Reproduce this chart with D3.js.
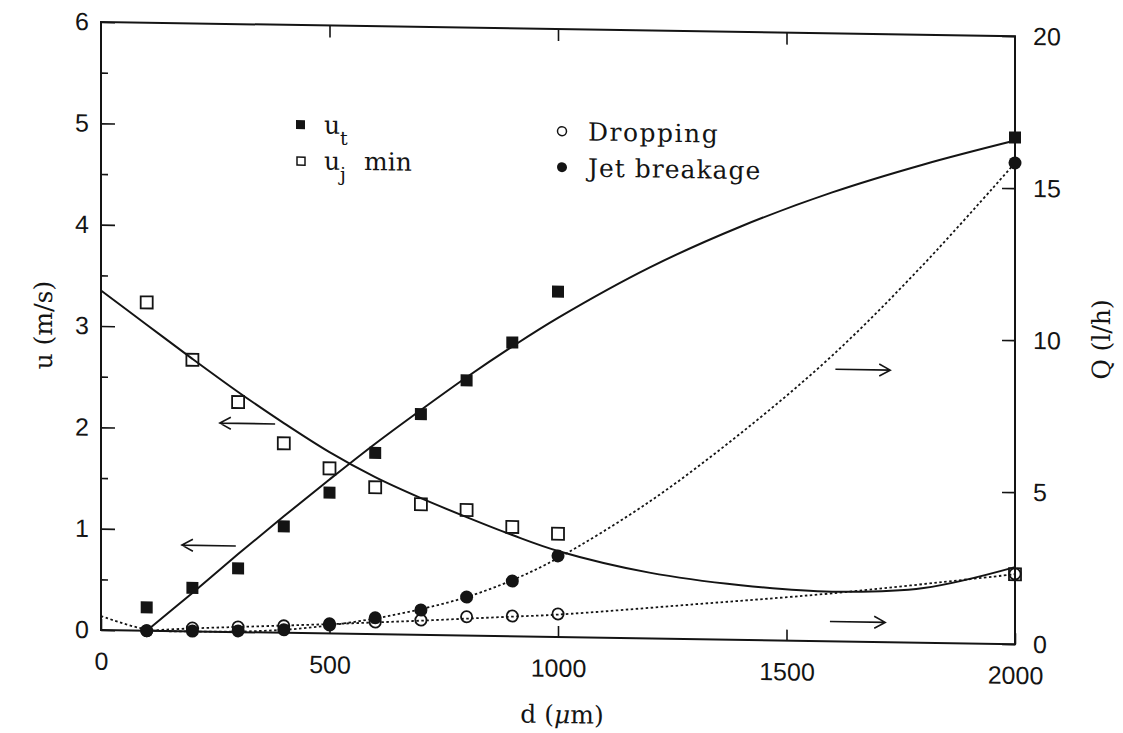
<!DOCTYPE html>
<html>
<head>
<meta charset="utf-8">
<script src="https://cdn.jsdelivr.net/npm/d3@7"></script>
<style>
  body { margin: 0; background: #fff; }
  svg { display: block; }
</style>
</head>
<body>
<div id="chart"></div>
<script>
// measured points, d in micrometres
const dVals = [100, 200, 300, 400, 500, 600, 700, 800, 900, 1000, 2000];
const utVals = [0.23, 0.43, 0.63, 1.05, 1.39, 1.79, 2.18, 2.52, 2.90, 3.41, 5.00];
const ujMinVals = [3.24, 2.68, 2.27, 1.87, 1.63, 1.45, 1.29, 1.24, 1.08, 1.02, 0.69];
const droppingQ = [0.00, 0.11, 0.17, 0.23, 0.32, 0.40, 0.49, 0.62, 0.67, 0.76, 2.31];
const jetQ = [0.00, 0.01, 0.04, 0.10, 0.28, 0.54, 0.82, 1.27, 1.82, 2.67, 15.83];

// fitted curves
const utFitD = [100, 200, 300, 400, 500, 600, 700, 800, 900, 1000, 1200, 1400, 1600, 1800, 2000];
const utFitU = [0, 0.38, 0.77, 1.15, 1.52, 1.88, 2.22, 2.55, 2.86, 3.15, 3.66, 4.08, 4.43, 4.72, 4.97];
const ujFitD = [0, 100, 200, 300, 400, 500, 600, 700, 800, 900, 1000, 1200, 1400, 1600, 1800, 2000];
const ujFitU = [3.35, 3.02, 2.69, 2.37, 2.07, 1.79, 1.55, 1.35, 1.17, 1.00, 0.85, 0.65, 0.54, 0.49, 0.54, 0.76];
const dropFitD = [100, 200, 300, 400, 500, 600, 700, 800, 900, 1000, 1300, 1600, 2000];
const dropFitQ = [0, 0.10, 0.17, 0.24, 0.31, 0.39, 0.47, 0.56, 0.65, 0.74, 1.15, 1.58, 2.30];
const jetFitD = [0, 100, 200, 300, 400, 500, 600, 700, 800, 900, 1000, 1200, 1400, 1600, 1800, 2000];
const jetFitQ = [0.46, 0.04, 0.00, 0.02, 0.10, 0.27, 0.52, 0.85, 1.27, 1.85, 2.60, 4.50, 6.80, 9.40, 12.45, 15.83];

// ticks
const uTicks = [0, 1, 2, 3, 4, 5, 6];
const uMinorTicks = [0.5, 1.5, 2.5, 3.5, 4.5, 5.5];
const qTicks = [0, 5, 10, 15, 20];
const dTicks = [0, 500, 1000, 1500, 2000];

// arrows: which axis the curve belongs to (from d0 to d1 at level v)
const arrows = [
  {axis: "u", d0: 381, d1: 260, v: 2.06},
  {axis: "u", d0: 295, d1: 177, v: 0.85},
  {axis: "Q", d0: 1607, d1: 1727, v: 8.95},
  {axis: "Q", d0: 1595, d1: 1716, v: 0.65}
];

const width = 1123, height = 733;
const skew = 0.0155; // the scanned page is slightly sheared

const x = d3.scaleLinear().domain([0, 2000]).range([101, 1015]);
const yU = d3.scaleLinear().domain([0, 6]).range([630, 22]);
const yQ = d3.scaleLinear().domain([0, 20]).range([630, 22]);

const ink = "#141414";
const serif = "'DejaVu Serif', 'Liberation Serif', serif";
const sans = "'Liberation Sans', Arial, sans-serif";
const fmt = d3.format("d");

const svg = d3.select("#chart").append("svg")
  .attr("width", width)
  .attr("height", height)
  .style("background", "#fff");

const g = svg.append("g")
  .attr("transform", `matrix(1,${skew},0,1,0,${-skew * x(0)})`);

function styleAxis(sel) {
  sel.select(".domain").remove();
  sel.selectAll("line").attr("stroke", ink).attr("stroke-width", 1.6);
  sel.selectAll("text")
    .attr("font-family", sans)
    .attr("font-size", 25)
    .attr("fill", ink);
}

// left axis
g.append("g")
  .attr("transform", `translate(${x(0)},0)`)
  .call(d3.axisLeft(yU).tickValues(uTicks).tickFormat(fmt).tickSizeInner(-14).tickSizeOuter(0).tickPadding(12))
  .call(styleAxis);
g.append("g")
  .attr("transform", `translate(${x(0)},0)`)
  .call(d3.axisLeft(yU).tickValues(uMinorTicks).tickSizeInner(-7).tickSizeOuter(0).tickFormat(""))
  .call(styleAxis);

// right axis
g.append("g")
  .attr("transform", `translate(${x(2000)},0)`)
  .call(d3.axisRight(yQ).tickValues(qTicks).tickFormat(fmt).tickSizeInner(-13).tickSizeOuter(0).tickPadding(18))
  .call(styleAxis);

// bottom and top
g.append("g")
  .attr("transform", `translate(0,${yU(0)})`)
  .call(d3.axisBottom(x).tickValues(dTicks).tickFormat(fmt).tickSizeInner(-11).tickSizeOuter(0).tickPadding(22))
  .call(styleAxis);
g.append("g")
  .attr("transform", `translate(0,${yU(6)})`)
  .call(d3.axisTop(x).tickValues(dTicks.slice(1, 4)).tickSizeInner(-12).tickSizeOuter(0).tickFormat(""))
  .call(styleAxis);

// frame
g.append("rect")
  .attr("x", x(0))
  .attr("y", yU(6))
  .attr("width", x(2000) - x(0))
  .attr("height", yU(0) - yU(6))
  .attr("fill", "none")
  .attr("stroke", ink)
  .attr("stroke-width", 2);

// fitted curves
const fitLine = (ys, yScale) => d3.line()
  .x(d => x(d))
  .y((d, i) => yScale(ys[i]))
  .curve(d3.curveCatmullRom.alpha(0.5));

g.append("path").attr("d", fitLine(utFitU, yU)(utFitD))
  .attr("fill", "none").attr("stroke", ink).attr("stroke-width", 2);
g.append("path").attr("d", fitLine(ujFitU, yU)(ujFitD))
  .attr("fill", "none").attr("stroke", ink).attr("stroke-width", 2);
g.append("path").attr("d", fitLine(dropFitQ, yQ)(dropFitD))
  .attr("fill", "none").attr("stroke", ink).attr("stroke-width", 1.8).attr("stroke-dasharray", "2.5,2.5");
g.append("path").attr("d", fitLine(jetFitQ, yQ)(jetFitD))
  .attr("fill", "none").attr("stroke", ink).attr("stroke-width", 1.8).attr("stroke-dasharray", "2.5,2.5");

// markers
g.selectAll(".drop")
  .data(dVals)
  .join("circle")
  .attr("class", "drop")
  .attr("cx", d => x(d))
  .attr("cy", (d, i) => yQ(droppingQ[i]))
  .attr("r", 5.6)
  .attr("fill", "none")
  .attr("stroke", ink)
  .attr("stroke-width", 1.8);

g.selectAll(".jet")
  .data(dVals)
  .join("circle")
  .attr("class", "jet")
  .attr("cx", d => x(d))
  .attr("cy", (d, i) => yQ(jetQ[i]))
  .attr("r", 6.5)
  .attr("fill", ink);

g.selectAll(".uj")
  .data(dVals)
  .join("rect")
  .attr("class", "uj")
  .attr("x", d => x(d) - 6)
  .attr("y", (d, i) => yU(ujMinVals[i]) - 6)
  .attr("width", 12)
  .attr("height", 12)
  .attr("fill", "none")
  .attr("stroke", ink)
  .attr("stroke-width", 1.8);

g.selectAll(".ut")
  .data(dVals)
  .join("rect")
  .attr("class", "ut")
  .attr("x", d => x(d) - 6)
  .attr("y", (d, i) => yU(utVals[i]) - 6)
  .attr("width", 12)
  .attr("height", 12)
  .attr("fill", ink);

// arrows
g.selectAll(".arrow")
  .data(arrows)
  .join("path")
  .attr("class", "arrow")
  .attr("d", a => {
    const yy = (a.axis === "u" ? yU : yQ)(a.v);
    const x0 = x(a.d0), x1 = x(a.d1);
    const dir = x1 > x0 ? -1 : 1;
    return `M${x0},${yy}L${x1},${yy}M${x1 + dir * 11},${yy - 6}L${x1},${yy}L${x1 + dir * 11},${yy + 6}`;
  })
  .attr("fill", "none")
  .attr("stroke", ink)
  .attr("stroke-width", 1.6);

// legend
const legend = g.append("g").attr("font-family", serif).attr("font-size", 25).attr("fill", ink);
legend.append("rect").attr("x", 296).attr("y", 117).attr("width", 9).attr("height", 9).attr("fill", ink);
legend.append("rect").attr("x", 297).attr("y", 154).attr("width", 8).attr("height", 8)
  .attr("fill", "none").attr("stroke", ink).attr("stroke-width", 1.5);
legend.append("circle").attr("cx", 562).attr("cy", 124).attr("r", 4.5)
  .attr("fill", "none").attr("stroke", ink).attr("stroke-width", 1.5);
legend.append("circle").attr("cx", 562).attr("cy", 160).attr("r", 5).attr("fill", ink);

const t1 = legend.append("text").attr("x", 324).attr("y", 130);
t1.append("tspan").text("u");
t1.append("tspan").attr("dy", 11).attr("font-size", 19).text("t");
const t2 = legend.append("text").attr("x", 324).attr("y", 166);
t2.append("tspan").text("u");
t2.append("tspan").attr("dy", 11).attr("font-size", 19).text("j");
t2.append("tspan").attr("x", 364).attr("dy", -11).text("min");
legend.append("text").attr("x", 588).attr("y", 133).attr("letter-spacing", 1.5).text("Dropping");
legend.append("text").attr("x", 588).attr("y", 169).attr("letter-spacing", 1).text("Jet breakage");

// axis titles
g.append("text")
  .attr("transform", `translate(52,${yU(3)}) rotate(-90)`)
  .attr("text-anchor", "middle")
  .attr("font-family", serif)
  .attr("font-size", 25)
  .attr("fill", ink)
  .text("u (m/s)");
g.append("text")
  .attr("transform", `translate(1110,${yQ(10) - 2}) rotate(-90)`)
  .attr("text-anchor", "middle")
  .attr("font-family", serif)
  .attr("font-size", 25)
  .attr("fill", ink)
  .text("Q (l/h)");
const xt = g.append("text")
  .attr("x", x(1000) + 4)
  .attr("y", 716)
  .attr("text-anchor", "middle")
  .attr("font-family", serif)
  .attr("font-size", 25)
  .attr("fill", ink);
xt.append("tspan").text("d (");
xt.append("tspan").attr("font-style", "italic").text("\u03bc");
xt.append("tspan").text("m)");
</script>
</body>
</html>
